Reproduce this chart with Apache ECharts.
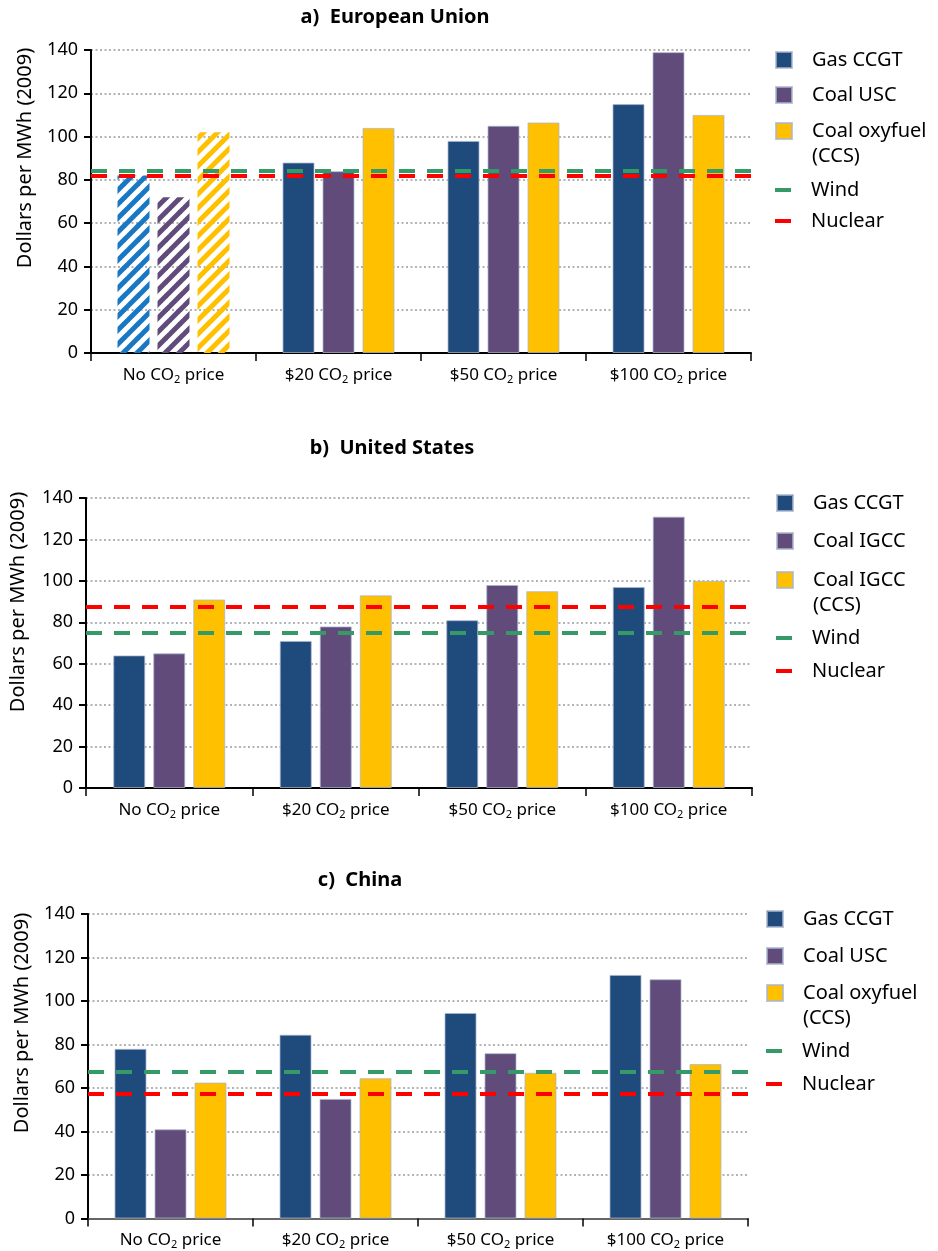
<!DOCTYPE html>
<html><head><meta charset="utf-8">
<script src="https://cdn.jsdelivr.net/npm/echarts@6/dist/echarts.min.js"></script>
<style>html,body{margin:0;padding:0;background:#fff}#c{width:938px;height:1251px}</style>
</head><body><div id="c"></div>
<script>
// ---- data ----
const categories = ['No CO2 price', '$20 CO2 price', '$50 CO2 price', '$100 CO2 price'];
const yMin = 0, yMax = 140, yStep = 20;

const euGas = [82, 88, 98, 115];
const euCoal = [72, 84, 105, 139];
const euOxy = [102, 104, 106.5, 110];
const euWind = 84;
const euNuclear = 82;

const usGas = [64, 71, 81, 97];
const usCoal = [65, 78, 98, 131];
const usCcs = [91, 93, 95, 100];
const usWind = 75;
const usNuclear = 87.3;

const cnGas = [78, 84.5, 94.5, 112];
const cnCoal = [41, 55, 76, 110];
const cnOxy = [62.5, 64.5, 67, 71];
const cnWind = 67.5;
const cnNuclear = 57.5;

const panelTitles = ['a)  European Union', 'b)  United States', 'c)  China'];
const yName = 'Dollars per MWh (2009)';

// ---- style ----
const F = '"Noto Sans", "DejaVu Sans", sans-serif';
const C_GAS = '#1F4A7C', C_COAL = '#604B7A', C_Y = '#FFC000';
const C_GAS_H = '#1878C4';
const C_WIND = '#359A68', C_NUC = '#FF0000';

function hatch(color) {
  const s = 14, cv = document.createElement('canvas');
  cv.width = s; cv.height = s;
  const g = cv.getContext('2d');
  g.strokeStyle = color; g.lineWidth = 5; g.lineCap = 'square';
  for (const o of [-s, 0, s]) { g.beginPath(); g.moveTo(o, s); g.lineTo(o + s, 0); g.stroke(); }
  return { image: cv, repeat: 'repeat' };
}

const grids = [
  { left: 91, top: 50, width: 660, height: 303 },
  { left: 86, top: 498, width: 666, height: 290 },
  { left: 88, top: 914, width: 660, height: 304.5 }
];

function catLabel(v) {
  const p = v.split('CO2');
  return '{n|' + p[0] + 'CO}{s|2}{n|' + p[1] + '}';
}

const xAxes = grids.map((g, i) => ({
  type: 'category', gridIndex: i, data: categories, boundaryGap: true,
  axisLine: { lineStyle: { color: i === 2 ? '#666' : '#000', width: 2 } },
  axisTick: { show: true, length: 8, alignWithLabel: false, interval: 0, lineStyle: { color: '#000', width: 1.5 } },
  axisLabel: { margin: 12, interval: 0, color: '#000', fontFamily: F, fontSize: 17, formatter: catLabel,
    rich: {
      n: { fontFamily: F, fontSize: 17, color: '#000' },
      s: { fontFamily: F, fontSize: 11, color: '#000', padding: [9, 0, 0, 0] }
    } },
  splitLine: { show: false }
}));

const yAxes = grids.map((g, i) => ({
  type: 'value', gridIndex: i, min: yMin, max: yMax, interval: yStep,
  axisLine: { show: true, lineStyle: { color: '#000', width: 2 } },
  axisTick: { show: true, length: 7, lineStyle: { color: '#000', width: 2 } },
  axisLabel: { margin: 13, color: '#000', fontFamily: F, fontSize: 18 },
  splitLine: { show: true, lineStyle: { color: '#9a9a9a', width: 1.5, type: [2, 2.5] } }
}));

const border = { borderColor: 'rgba(170,180,205,0.75)', borderWidth: 1 };

function barSeries(name, vals, color, idx, hatchColor) {
  return {
    type: 'bar', name, xAxisIndex: idx, yAxisIndex: idx,
    barWidth: 32, barGap: '25%',
    itemStyle: Object.assign({ color }, border),
    data: vals.map((v, k) => (hatchColor && k === 0)
      ? { value: v, itemStyle: { color: hatch(hatchColor), borderWidth: 0 } }
      : v),
    silent: true
  };
}
function refSeries(name, val, color, idx) {
  return {
    type: 'line', name, xAxisIndex: idx, yAxisIndex: idx, data: [],
    itemStyle: { color }, lineStyle: { color },
    markLine: { silent: true, symbol: 'none', label: { show: false },
      lineStyle: { color, width: 4, type: [16, 12] },
      data: [{ yAxis: val }] }
  };
}

const series = [
  barSeries('Gas CCGT', euGas, C_GAS, 0, C_GAS_H),
  barSeries('Coal USC', euCoal, C_COAL, 0, C_COAL),
  barSeries('Coal oxyfuel\n(CCS)', euOxy, C_Y, 0, C_Y),
  refSeries('Wind', euWind, C_WIND, 0),
  refSeries('Nuclear', euNuclear, C_NUC, 0),
  barSeries('Gas CCGT', usGas, C_GAS, 1),
  barSeries('Coal IGCC', usCoal, C_COAL, 1),
  barSeries('Coal IGCC\n(CCS)', usCcs, C_Y, 1),
  refSeries('Wind', usWind, C_WIND, 1),
  refSeries('Nuclear', usNuclear, C_NUC, 1),
  barSeries('Gas CCGT', cnGas, C_GAS, 2),
  barSeries('Coal USC', cnCoal, C_COAL, 2),
  barSeries('Coal oxyfuel\n(CCS)', cnOxy, C_Y, 2),
  refSeries('Wind', cnWind, C_WIND, 2),
  refSeries('Nuclear', cnNuclear, C_NUC, 2)
];

function leg(name, left, cy, kind) {
  const two = name.indexOf('\n') >= 0;
  const lh = two ? 25 : 22;
  return {
    orient: 'vertical', left, top: two ? cy - 1.5 * lh : cy - lh / 2,
    padding: 0, itemGap: 0, selectedMode: false, data: [name], icon: 'rect',
    itemWidth: 16, itemHeight: kind === 'line' ? 4 : 16,
    formatter: (n) => (n.indexOf('\n') >= 0 ? '\n' + n : n),
    textStyle: { fontFamily: F, fontSize: 20, color: '#000', lineHeight: lh,
      padding: [0, 0, 0, 15] }
  };
}

const legends = [
  leg('Gas CCGT', 775, 60), leg('Coal USC', 775, 95), leg('Coal oxyfuel\n(CCS)', 775, 131),
  leg('Wind', 775, 190, 'line'), leg('Nuclear', 775, 221, 'line'),
  leg('Gas CCGT', 776, 503), leg('Coal IGCC', 776, 541), leg('Coal IGCC\n(CCS)', 776, 580),
  leg('Wind', 776, 638, 'line'), leg('Nuclear', 776, 671, 'line'),
  leg('Gas CCGT', 766, 919), leg('Coal USC', 766, 956), leg('Coal oxyfuel\n(CCS)', 766, 993),
  leg('Wind', 766, 1051, 'line'), leg('Nuclear', 766, 1084, 'line')
];

const titlePos = [[395, 17], [392, 448], [360, 880]];
const yNamePos = [[25, 158], [18, 602], [22, 1023]];
const graphic = [];
panelTitles.forEach((t, i) => graphic.push({ type: 'text', x: titlePos[i][0], y: titlePos[i][1],
  style: { text: t, font: 'bold 20px ' + F, fill: '#000', textAlign: 'center', textVerticalAlign: 'middle' } }));
yNamePos.forEach((p) => graphic.push({ type: 'text', x: p[0], y: p[1], rotation: Math.PI / 2,
  style: { text: yName, font: '20px ' + F, fill: '#000', textAlign: 'center', textVerticalAlign: 'middle' } }));

const chart = echarts.init(document.getElementById('c'), null, { renderer: 'canvas' });
chart.setOption({
  animation: false, backgroundColor: '#fff',
  grid: grids, xAxis: xAxes, yAxis: yAxes, series, legend: legends, graphic
});
</script></body></html>
